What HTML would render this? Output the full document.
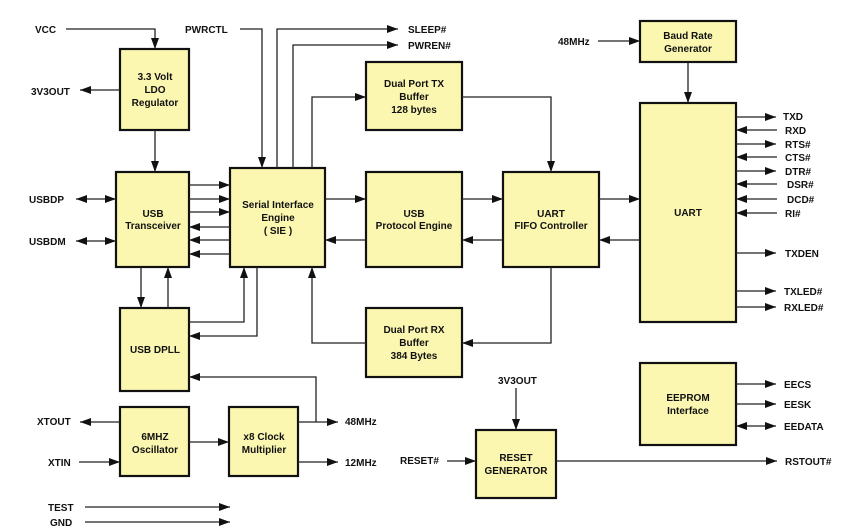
<!DOCTYPE html>
<html><head><meta charset="utf-8"><style>
html,body{margin:0;padding:0;background:#fff;width:868px;height:531px;overflow:hidden}
svg{display:block}
text{font-family:"Liberation Sans",Arial,sans-serif;font-weight:bold;font-size:10px;fill:#111}
.b{fill:#fbf7b0;stroke:#111;stroke-width:2.2}
.l{stroke:#222;stroke-width:1.3;fill:none}
</style></head><body>
<svg width="868" height="531" viewBox="0 0 868 531" xmlns="http://www.w3.org/2000/svg">
<defs>
<marker id="a" markerUnits="userSpaceOnUse" markerWidth="12" markerHeight="10" refX="11" refY="4" orient="auto-start-reverse"><path d="M0,0 L11,4 L0,8 Z" fill="#111"/></marker>
</defs>
<!-- boxes -->
<rect class="b" x="120" y="49" width="69" height="81"/>
<rect class="b" x="116" y="172" width="73" height="95"/>
<rect class="b" x="230" y="168" width="95" height="99"/>
<rect class="b" x="366" y="62" width="96" height="68"/>
<rect class="b" x="366" y="172" width="96" height="95"/>
<rect class="b" x="503" y="172" width="96" height="95"/>
<rect class="b" x="640" y="21" width="96" height="41"/>
<rect class="b" x="640" y="103" width="96" height="219"/>
<rect class="b" x="120" y="308" width="69" height="83"/>
<rect class="b" x="120" y="407" width="69" height="69"/>
<rect class="b" x="229" y="407" width="69" height="69"/>
<rect class="b" x="366" y="308" width="96" height="69"/>
<rect class="b" x="640" y="363" width="96" height="82"/>
<rect class="b" x="476" y="430" width="80" height="68"/>
<!-- box text -->
<g text-anchor="middle">
<text x="155" y="80">3.3 Volt</text><text x="155" y="93">LDO</text><text x="155" y="106">Regulator</text>
<text x="153" y="217">USB</text><text x="153" y="229">Transceiver</text>
<text x="278" y="208">Serial Interface</text><text x="278" y="221">Engine</text><text x="278" y="234">( SIE )</text>
<text x="414" y="87">Dual Port TX</text><text x="414" y="100">Buffer</text><text x="414" y="113">128 bytes</text>
<text x="414" y="217">USB</text><text x="414" y="229">Protocol Engine</text>
<text x="551" y="217">UART</text><text x="551" y="229">FIFO Controller</text>
<text x="688" y="39">Baud Rate</text><text x="688" y="52">Generator</text>
<text x="688" y="216">UART</text>
<text x="155" y="353">USB DPLL</text>
<text x="155" y="440">6MHZ</text><text x="155" y="453">Oscillator</text>
<text x="264" y="440">x8 Clock</text><text x="264" y="453">Multiplier</text>
<text x="414" y="333">Dual Port RX</text><text x="414" y="346">Buffer</text><text x="414" y="359">384 Bytes</text>
<text x="688" y="401">EEPROM</text><text x="688" y="414">Interface</text>
<text x="516" y="461">RESET</text><text x="516" y="474">GENERATOR</text>
</g>
<!-- labels -->
<text x="35" y="33">VCC</text>
<text x="185" y="33">PWRCTL</text>
<text x="408" y="33">SLEEP#</text>
<text x="408" y="49">PWREN#</text>
<text x="31" y="95">3V3OUT</text>
<text x="29" y="203">USBDP</text>
<text x="29" y="245">USBDM</text>
<text x="37" y="425">XTOUT</text>
<text x="48" y="466">XTIN</text>
<text x="48" y="511">TEST</text>
<text x="50" y="526">GND</text>
<text x="345" y="425">48MHz</text>
<text x="345" y="466">12MHz</text>
<text x="558" y="45">48MHz</text>
<text x="498" y="384">3V3OUT</text>
<text x="400" y="464">RESET#</text>
<text x="785" y="465">RSTOUT#</text>
<text x="783" y="120">TXD</text><text x="785" y="134">RXD</text><text x="785" y="148">RTS#</text>
<text x="785" y="161">CTS#</text><text x="785" y="175">DTR#</text><text x="787" y="188">DSR#</text>
<text x="787" y="203">DCD#</text><text x="785" y="217">RI#</text>
<text x="785" y="257">TXDEN</text><text x="784" y="295">TXLED#</text><text x="784" y="311">RXLED#</text>
<text x="784" y="388">EECS</text><text x="784" y="408">EESK</text><text x="784" y="430">EEDATA</text>
<!-- lines -->
<g class="l">
<path d="M66,29 H155 V49" marker-end="url(#a)"/>
<path d="M240,29 H262 V168" marker-end="url(#a)"/>
<path d="M277,168 V29 H398" marker-end="url(#a)"/>
<path d="M293,168 V45 H398" marker-end="url(#a)"/>
<path d="M312,168 V97 H366" marker-end="url(#a)"/>
<path d="M120,90 H80" marker-end="url(#a)"/>
<path d="M155,130 V172" marker-end="url(#a)"/>
<path d="M76,199 H116" marker-start="url(#a)" marker-end="url(#a)"/>
<path d="M76,241 H116" marker-start="url(#a)" marker-end="url(#a)"/>
<path d="M189,185 H230" marker-end="url(#a)"/>
<path d="M189,199 H230" marker-end="url(#a)"/>
<path d="M189,212 H230" marker-end="url(#a)"/>
<path d="M230,227 H189" marker-end="url(#a)"/>
<path d="M230,240 H189" marker-end="url(#a)"/>
<path d="M230,254 H189" marker-end="url(#a)"/>
<path d="M325,199 H366" marker-end="url(#a)"/>
<path d="M366,240 H325" marker-end="url(#a)"/>
<path d="M462,199 H503" marker-end="url(#a)"/>
<path d="M503,240 H462" marker-end="url(#a)"/>
<path d="M599,199 H640" marker-end="url(#a)"/>
<path d="M640,240 H599" marker-end="url(#a)"/>
<path d="M462,97 H551 V172" marker-end="url(#a)"/>
<path d="M551,267 V343 H462" marker-end="url(#a)"/>
<path d="M366,343 H312 V267" marker-end="url(#a)"/>
<path d="M141,267 V308" marker-end="url(#a)"/>
<path d="M168,308 V267" marker-end="url(#a)"/>
<path d="M189,322 H244 V267" marker-end="url(#a)"/>
<path d="M257,267 V336 H189" marker-end="url(#a)"/>
<path d="M298,422 H338" marker-end="url(#a)"/>
<path d="M316,422 V377 H189" marker-end="url(#a)"/>
<path d="M298,462 H338" marker-end="url(#a)"/>
<path d="M120,422 H80" marker-end="url(#a)"/>
<path d="M79,462 H120" marker-end="url(#a)"/>
<path d="M189,442 H229" marker-end="url(#a)"/>
<path d="M85,507 H230" marker-end="url(#a)"/>
<path d="M85,522 H230" marker-end="url(#a)"/>
<path d="M598,41 H640" marker-end="url(#a)"/>
<path d="M688,62 V103" marker-end="url(#a)"/>
<path d="M736,117 H776" marker-end="url(#a)"/>
<path d="M777,130 H736" marker-end="url(#a)"/>
<path d="M736,144 H776" marker-end="url(#a)"/>
<path d="M777,157 H736" marker-end="url(#a)"/>
<path d="M736,171 H776" marker-end="url(#a)"/>
<path d="M777,184 H736" marker-end="url(#a)"/>
<path d="M777,199 H736" marker-end="url(#a)"/>
<path d="M777,213 H736" marker-end="url(#a)"/>
<path d="M736,253 H776" marker-end="url(#a)"/>
<path d="M736,291 H776" marker-end="url(#a)"/>
<path d="M736,307 H776" marker-end="url(#a)"/>
<path d="M736,384 H776" marker-end="url(#a)"/>
<path d="M736,404 H776" marker-end="url(#a)"/>
<path d="M736,426 H776" marker-start="url(#a)" marker-end="url(#a)"/>
<path d="M516,388 V430" marker-end="url(#a)"/>
<path d="M447,461 H476" marker-end="url(#a)"/>
<path d="M556,461 H777" marker-end="url(#a)"/>
</g>
</svg>
</body></html>
